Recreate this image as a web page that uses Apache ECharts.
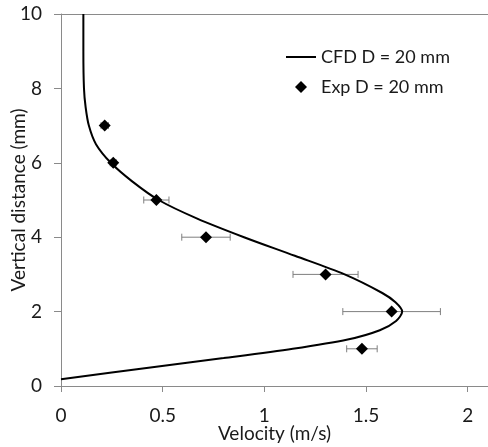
<!DOCTYPE html>
<html>
<head>
<meta charset="utf-8">
<script src="https://cdn.jsdelivr.net/npm/echarts@6/dist/echarts.min.js"></script>
<style>html,body{margin:0;padding:0;background:#fff}#c{width:488px;height:447px}</style>
</head>
<body>
<div id="c"></div>
<script>
// CFD profile: velocity (m/s) at vertical distance (mm)
const cfdVelocity = [0, 0.44, 0.80, 1.14, 1.41, 1.568, 1.648, 1.678, 1.645, 1.58, 1.395, 1.15, 0.90, 0.67, 0.48, 0.35, 0.245, 0.172, 0.137, 0.121, 0.113, 0.110, 0.110];
const cfdDistance = [0.18, 0.5, 0.75, 1.0, 1.25, 1.5, 1.75, 2.0, 2.25, 2.5, 3.0, 3.5, 4.0, 4.5, 5.0, 5.5, 6.0, 6.5, 7.0, 7.5, 8.0, 9.0, 10];
// Experimental points
const expVelocity = [1.480, 1.626, 1.301, 0.713, 0.469, 0.257, 0.215];
const expDistance = [1, 2, 3, 4, 5, 6, 7];
const expError = [0.075, 0.24, 0.16, 0.119, 0.062, 0.015, 0.018];
const xTicks = [0, 0.5, 1, 1.5, 2];

const FONT = 'Lato';
const cfdData = cfdVelocity.map((v, i) => [v, cfdDistance[i]]);
const expData = expVelocity.map((v, i) => [v, expDistance[i]]);
const errData = expVelocity.map((v, i) => [v - expError[i], v + expError[i], expDistance[i]]);

const chart = echarts.init(document.getElementById('c'), null, {renderer: 'canvas'});
chart.setOption({
  animation: false,
  backgroundColor: '#fff',
  textStyle: {fontFamily: FONT},
  grid: {left: 61, top: 14, right: 0, bottom: 61, containLabel: false, outerBoundsMode: 'none'},
  legend: {
    orient: 'vertical', left: 281, top: 43, itemWidth: 30, itemHeight: 12, itemGap: 12,
    textStyle: {fontFamily: FONT, fontSize: 18, color: '#1a1a1a'},
    data: [
      {name: 'CFD D = 20 mm', icon: 'path://M0,0H15V1H0Z'},
      {name: 'Exp D = 20 mm', icon: 'path://M0,-1L1,0L0,1L-1,0Z', itemStyle: {color: '#000', opacity: 1}}
    ]
  },
  xAxis: [{
    type: 'value', min: 0, max: 2.1, interval: 0.5,
    name: 'Velocity (m/s)', nameLocation: 'middle', nameGap: 38, nameMoveOverlap: false,
    nameTextStyle: {fontFamily: FONT, fontSize: 19, color: '#1a1a1a'},
    axisLine: {lineStyle: {color: '#8a8a8a', width: 1}},
    axisTick: {show: true, length: 6, customValues: xTicks, lineStyle: {color: '#8a8a8a'}},
    axisLabel: {customValues: xTicks, fontFamily: FONT, fontSize: 19, color: '#1a1a1a', margin: 20},
    splitLine: {show: false}
  }, {
    type: 'value', position: 'top', min: 0, max: 2.1,
    axisLine: {show: true, onZero: false, lineStyle: {color: '#8a8a8a', width: 1}},
    axisTick: {show: false}, axisLabel: {show: false}, splitLine: {show: false}
  }],
  yAxis: {
    type: 'value', min: 0, max: 10, interval: 2,
    name: 'Vertical distance (mm)', nameLocation: 'middle', nameGap: 33, nameMoveOverlap: false,
    nameTextStyle: {fontFamily: FONT, fontSize: 19, color: '#1a1a1a'},
    axisLine: {show: true, lineStyle: {color: '#8a8a8a', width: 1}},
    axisTick: {show: true, length: 7, lineStyle: {color: '#8a8a8a'}},
    axisLabel: {fontFamily: FONT, fontSize: 19, color: '#1a1a1a', margin: 19},
    splitLine: {show: false}
  },
  series: [{
    name: 'CFD D = 20 mm', type: 'line', data: cfdData, smooth: 0.3,
    showSymbol: false, symbol: 'none',
    lineStyle: {color: '#000', width: 2}, itemStyle: {color: '#000'}, z: 3
  }, {
    name: 'errbars', type: 'custom', data: errData, z: 2,
    renderItem: function (params, api) {
      const lo = api.coord([api.value(0), api.value(2)]);
      const hi = api.coord([api.value(1), api.value(2)]);
      const h = 3.5;
      const st = {stroke: '#7f7f7f', lineWidth: 1};
      return {type: 'group', children: [
        {type: 'line', shape: {x1: lo[0], y1: lo[1], x2: hi[0], y2: hi[1]}, style: st},
        {type: 'line', shape: {x1: lo[0], y1: lo[1] - h, x2: lo[0], y2: lo[1] + h}, style: st},
        {type: 'line', shape: {x1: hi[0], y1: hi[1] - h, x2: hi[0], y2: hi[1] + h}, style: st}
      ]};
    },
    encode: {x: [0, 1], y: 2}
  }, {
    name: 'Exp D = 20 mm', type: 'scatter', data: expData, symbol: 'diamond',
    symbolSize: [12, 12], itemStyle: {color: '#000', opacity: 1}, z: 4
  }]
});
</script>
</body>
</html>
